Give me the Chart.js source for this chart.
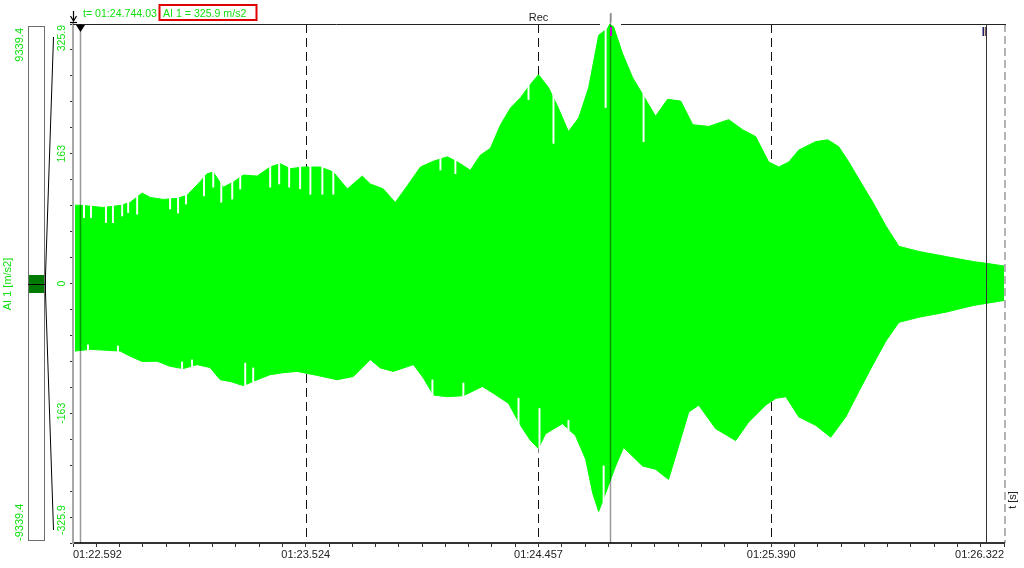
<!DOCTYPE html>
<html><head><meta charset="utf-8">
<script src="https://cdn.jsdelivr.net/npm/chart.js@4/dist/chart.umd.min.js"></script>
<style>html,body{margin:0;padding:0;background:#fff;overflow:hidden}#wrap{position:relative;width:1024px;height:568px}</style>
</head><body><div id="wrap"><canvas id="c" width="1024" height="568"></canvas></div>
<script>
// ---- data (time in seconds, acceleration in m/s2) ----
const upperTime = [82.600,82.632,82.712,82.781,82.821,82.869,82.901,82.953,83.009,83.049,83.093,83.129,83.154,83.194,83.234,83.274,83.330,83.382,83.422,83.462,83.514,83.583,83.635,83.691,83.751,83.783,83.835,83.883,83.932,83.984,84.036,84.092,84.132,84.184,84.224,84.264,84.305,84.345,84.385,84.425,84.457,84.497,84.533,84.577,84.618,84.658,84.698,84.734,84.742,84.758,84.794,84.834,84.874,84.926,84.974,85.027,85.075,85.139,85.219,85.275,85.327,85.379,85.420,85.460,85.500,85.568,85.616,85.660,85.700,85.740,85.797,85.849,85.901,85.981,86.089,86.198,86.250,86.322];
const upperValue = [98.4,98.0,95.5,98.0,101.8,113.6,108.1,105.6,106.9,110.8,125.1,137.8,140.0,120.9,127.3,136.2,134.9,146.3,150.6,144.2,146.3,146.3,140.0,118.8,134.9,125.1,118.8,101.8,123.0,146.3,153.6,159.1,152.7,142.2,161.2,169.7,199.4,220.5,233.3,250.3,262.2,246.1,222.8,190.9,207.9,246.1,311.8,320.4,325.5,322.4,288.5,258.7,237.7,210.0,231.3,229.1,199.4,197.3,205.8,193.1,184.5,152.7,146.3,152.7,167.6,178.2,180.4,171.8,152.7,131.4,101.8,72.1,46.7,40.3,33.9,27.6,25.4,22.0];
const lowerTime = [82.600,82.660,82.781,82.821,82.869,82.929,82.981,83.033,83.089,83.141,83.182,83.222,83.274,83.330,83.382,83.434,83.490,83.571,83.651,83.715,83.783,83.823,83.875,83.956,83.996,84.036,84.092,84.156,84.232,84.276,84.337,84.385,84.425,84.457,84.485,84.553,84.605,84.646,84.674,84.698,84.726,84.766,84.798,84.846,84.874,84.926,84.978,85.019,85.059,85.099,85.167,85.247,85.299,85.367,85.408,85.448,85.500,85.568,85.628,85.688,85.740,85.797,85.849,85.901,85.981,86.089,86.198,86.322];
const lowerValue = [-84.9,-82.7,-84.9,-91.3,-98.0,-97.6,-104.0,-106.9,-101.9,-105.6,-120.9,-123.1,-128.2,-120.9,-114.5,-112.0,-110.4,-115.5,-120.9,-116.8,-95.5,-106.0,-110.4,-101.9,-118.8,-140.1,-142.2,-140.9,-129.4,-137.9,-150.6,-178.2,-197.3,-207.2,-188.8,-176.1,-191.0,-220.7,-263.1,-286.4,-263.1,-229.2,-205.9,-220.7,-229.2,-233.3,-246.1,-203.6,-161.3,-152.8,-182.4,-197.3,-174.0,-152.8,-144.2,-142.2,-167.6,-178.2,-193.1,-167.6,-135.8,-101.9,-72.2,-48.8,-42.4,-36.0,-27.7,-21.3];
// thin dropouts (white streaks) cutting into the envelope: time, inner value, outer value
const dropTime  = [82.636,82.664,82.724,82.752,82.789,82.813,82.849,82.981,83.013,83.045,83.117,83.154,83.186,83.230,83.262,83.382,83.418,83.458,83.502,83.543,83.591,83.635,84.064,84.124,84.417,84.517,84.726,84.878,
                   82.652,82.772,83.029,83.069,83.282,83.314,84.032,84.156,84.377,84.461,84.577,84.718];
const dropInner = [82.8,82.8,76.4,76.4,84.8,89,87,93.6,88.5,99.8,110,121,102,106,118.7,121,125,121,119,112,112,112,142.5,138,231,176,221,178,
                   -77,-78.5,-98.5,-96,-100,-106,-121,-125,-144,-157,-171.8,-229];
const dropOuter = [104,104,102,102,104,104,118,113,112,116,144,146,134,134,142,152,156,152,153,153,152,147,163,162,256,242,326,244,
                   -90,-90,-111,-106,-134,-132,-146,-147,-181,-213,-189,-274];

const xMin = 82.592, xMax = 86.322;
const xTickLabels = ['01:22.592','01:23.524','01:24.457','01:25.390','01:26.322'];
const yMax = 325.9;
const yTickValues = [325.9, 162.95, 0, -162.95, -325.9];
const yTickLabels = ['325.9','163','0','-163','-325.9'];
const overviewLabels = ['9339.4','-9339.4'];
const channelLabel = 'AI 1 [m/s2]';
const cursorTimes = [82.620, 84.744, 86.250];
const cursorReadout = ['t= 01:24.744.03', 'AI 1 = 325.9 m/s2'];
const recTime = 84.457;

const GREEN = '#00ff00';
const TXT_GREEN = '#10e010';
const FONT = '"Liberation Sans", Arial, sans-serif';

const toPts = (ts, vs) => ts.map((t, i) => ({x: t, y: vs[i]}));

function vline(ctx, x, y1, y2) { ctx.beginPath(); ctx.moveTo(x, y1); ctx.lineTo(x, y2); ctx.stroke(); }
function rotText(ctx, txt, x, y, align) {
  ctx.save(); ctx.translate(x, y); ctx.rotate(-Math.PI / 2);
  ctx.textAlign = align; ctx.textBaseline = 'middle'; ctx.fillText(txt, 0, 0); ctx.restore();
}

const deco = {
  id: 'deco',
  afterDatasetsDraw(chart) {
    const {ctx, chartArea: a, scales: {x, y}} = chart;
    ctx.save();
    // dashed major grid lines, drawn behind the signal
    ctx.globalCompositeOperation = 'destination-over';
    ctx.strokeStyle = '#111'; ctx.lineWidth = 1; ctx.setLineDash([9, 5]);
    const step = (xMax - xMin) / 4;
    for (let i = 1; i < 4; i++) {
      const px = Math.round(x.getPixelForValue(xMin + i * step)) + 0.5;
      vline(ctx, px, a.top, a.bottom);
    }
    ctx.strokeStyle = '#9a9a9a'; ctx.lineWidth = 1.5; ctx.setLineDash([8, 4]);
    vline(ctx, a.right + 1, a.top, a.bottom);
    ctx.setLineDash([]);
    ctx.globalCompositeOperation = 'source-over';

    const c2 = Math.round(x.getPixelForValue(cursorTimes[1]));
    ctx.strokeStyle = '#222'; ctx.lineWidth = 1;
    ctx.beginPath(); ctx.moveTo(a.left, a.top + 0.5); ctx.lineTo(c2 - 10, a.top + 0.5);
    ctx.moveTo(c2 + 11, a.top + 0.5); ctx.lineTo(a.right + 2, a.top + 0.5); ctx.stroke();

    const c1 = Math.round(x.getPixelForValue(cursorTimes[0])) + 0.5;
    ctx.globalCompositeOperation = 'multiply';
    ctx.strokeStyle = '#999'; ctx.lineWidth = 1.5;
    vline(ctx, c1, a.top, a.bottom);
    vline(ctx, c2 + 0.5, a.top - 10, a.bottom);
    ctx.globalCompositeOperation = 'source-over';
    const c3 = Math.round(x.getPixelForValue(cursorTimes[2])) + 0.5;
    ctx.strokeStyle = '#333'; ctx.lineWidth = 1;
    vline(ctx, c3, a.top, a.bottom);
    ctx.fillStyle = '#000';
    ctx.beginPath(); ctx.moveTo(c1 - 4.5, a.top + 1); ctx.lineTo(c1 + 4.5, a.top + 1); ctx.lineTo(c1, a.top + 8); ctx.closePath(); ctx.fill();
    ctx.fillStyle = '#cc00cc'; ctx.fillRect(c2, a.top + 3, 2, 9);
    ctx.fillStyle = '#888'; ctx.fillRect(c2, a.top - 11, 1.5, 9);
    ctx.fillStyle = '#20206a'; ctx.fillRect(c3 - 4, a.top + 3, 1.5, 9);
    ctx.fillStyle = '#b8a060'; ctx.fillRect(c3 - 2, a.top + 3, 1.5, 9);
    ctx.fillStyle = '#20206a'; ctx.fillRect(c3 - 1, a.top + 3, 1, 9);
    ctx.strokeStyle = '#000'; ctx.lineWidth = 1.2;
    vline(ctx, a.left + 0.5, 11, 20);
    ctx.beginPath(); ctx.moveTo(a.left - 2.5, 16); ctx.lineTo(a.left + 0.5, 21); ctx.lineTo(a.left + 3.5, 16); ctx.stroke();
    ctx.beginPath(); ctx.moveTo(a.left - 3, 22.5); ctx.lineTo(a.left + 4, 22.5); ctx.stroke();

    ctx.fillStyle = '#222'; ctx.font = '11px ' + FONT; ctx.textAlign = 'center'; ctx.textBaseline = 'alphabetic';
    ctx.fillText('Rec', x.getPixelForValue(recTime), 21);

    ctx.textAlign = 'left'; ctx.fillStyle = TXT_GREEN; ctx.font = '10.6px ' + FONT;
    ctx.fillText(cursorReadout[0], 83, 17);
    ctx.fillText(cursorReadout[1], 163, 17);
    ctx.strokeStyle = '#e00000'; ctx.lineWidth = 2;
    ctx.strokeRect(159.5, 5, 97, 15);

    ctx.fillStyle = TXT_GREEN; ctx.font = '10.5px ' + FONT;
    yTickValues.forEach((v, i) => {
      const py = y.getPixelForValue(v);
      let align = 'center', yy = py;
      if (i === 0) { align = 'right'; yy = py + 1; }
      if (i === yTickValues.length - 1) { align = 'left'; yy = py - 8; }
      rotText(ctx, yTickLabels[i], 62, yy, align);
    });

    ctx.fillStyle = '#222'; ctx.font = '11px ' + FONT;
    rotText(ctx, 't [s]', 1013, 500, 'center');

    ctx.fillStyle = '#fff'; ctx.strokeStyle = '#6e6e6e'; ctx.lineWidth = 1;
    ctx.fillRect(28.5, 26.5, 16, 514); ctx.strokeRect(28.5, 26.5, 16, 514);
    ctx.fillStyle = '#007a00'; ctx.fillRect(29, 275, 15, 18);
    ctx.strokeStyle = '#000';
    ctx.beginPath(); ctx.moveTo(28, 284.5); ctx.lineTo(45, 284.5); ctx.stroke();
    ctx.beginPath(); ctx.moveTo(53.5, 37); ctx.lineTo(45.5, 275); ctx.stroke();
    ctx.beginPath(); ctx.moveTo(45.5, 293); ctx.lineTo(53.5, 530); ctx.stroke();
    ctx.beginPath(); ctx.moveTo(45.5, 275); ctx.lineTo(45.5, 293); ctx.stroke();
    ctx.fillStyle = TXT_GREEN; ctx.font = '11px ' + FONT;
    rotText(ctx, overviewLabels[0], 20, 28, 'right');
    rotText(ctx, overviewLabels[1], 20, 541, 'left');
    rotText(ctx, channelLabel, 8, 284, 'center');
    ctx.restore();
  }
};

new Chart(document.getElementById('c'), {
  type: 'line',
  data: {
    datasets: [
      {type: 'bar', order: 0, data: dropTime.map((t, i) => ({x: t, y: [dropInner[i], dropOuter[i]]})),
        backgroundColor: '#ffffff', borderWidth: 0, barThickness: 1.3, grouped: false},
      {order: 1, data: toPts(upperTime, upperValue), borderColor: GREEN, backgroundColor: GREEN, borderWidth: 1, pointRadius: 0, tension: 0, fill: {target: {value: -3}}},
      {order: 1, data: toPts(lowerTime, lowerValue), borderColor: GREEN, backgroundColor: GREEN, borderWidth: 1, pointRadius: 0, tension: 0, fill: {target: {value: 3}}}
    ]
  },
  options: {
    responsive: false, animation: false, devicePixelRatio: 1, events: [],
    layout: {padding: {left: 0, top: 24, right: 20, bottom: 0}},
    plugins: {legend: {display: false}, tooltip: {enabled: false}},
    scales: {
      x: {
        type: 'linear', min: xMin, max: xMax, offset: false,
        afterBuildTicks: s => { s.ticks = Array.from({length: 41}, (_, i) => ({value: xMin + i * (xMax - xMin) / 40})); },
        afterFit: s => { s.height = 25; },
        ticks: {autoSkip: false, maxRotation: 0, minRotation: 0, align: 'inner', padding: 1, color: '#222',
          font: {size: 11, family: FONT},
          callback: (v, i) => (i % 10 === 0 ? xTickLabels[i / 10] : '')},
        grid: {offset: false, drawOnChartArea: false, drawTicks: true, tickLength: 4, color: '#333'},
        border: {display: true, color: '#333', width: 2}
      },
      y: {
        type: 'linear', min: -yMax, max: yMax,
        afterBuildTicks: s => { s.ticks = Array.from({length: 21}, (_, i) => ({value: -yMax + i * yMax / 10})); },
        afterFit: s => { s.width = 73; },
        ticks: {display: false},
        grid: {drawOnChartArea: false, drawTicks: true, tickLength: 3, color: '#333'},
        border: {display: true, color: '#a8a8a8', width: 2}
      }
    }
  },
  plugins: [deco]
});
</script>
</body></html>
